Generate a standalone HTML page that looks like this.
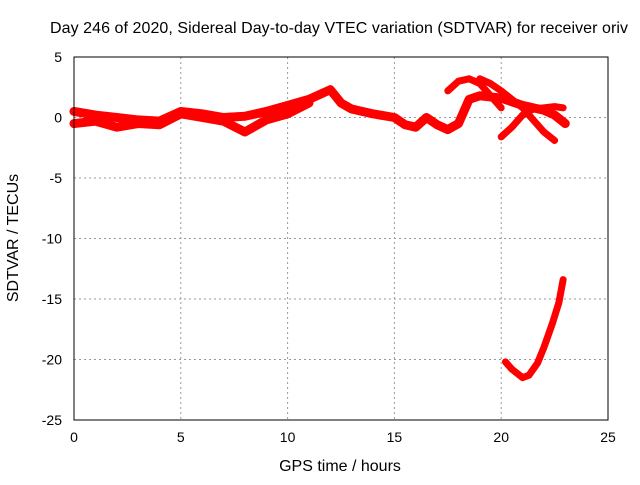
<!DOCTYPE html>
<html><head><meta charset="utf-8"><style>
body{margin:0;background:#fff}
svg text{font-family:"Liberation Sans",sans-serif;font-size:14px;fill:#000}
svg text.big{font-size:16px}
</style></head><body>
<svg id="chart" width="640" height="480">
<text class="big" x="339" y="33" text-anchor="middle" textLength="578">Day 246 of 2020, Sidereal Day-to-day VTEC variation (SDTVAR) for receiver oriv</text>
<text class="big" x="340" y="471" text-anchor="middle">GPS time / hours</text>
<text class="big" transform="translate(18,238) rotate(-90)" text-anchor="middle">SDTVAR / TECUs</text>
<g id="grid"></g><g id="ticks"></g><g id="series"></g>
<rect x="74" y="57" width="534" height="363" fill="none" stroke="#000"/>
</svg>
<script>
const xTicks=[0,5,10,15,20,25];
const yTicks=[5,0,-5,-10,-15,-20,-25];
const mainT=[0,1,2,3,4,5,6,7,8,9,10,11,12,12.5,13,14,15,15.5,16,16.5,17,17.5,18,18.5,19,20,21,22,22.5,23];
const mainV=[0.5,0.2,0,-0.2,-0.3,0.5,0.3,0,0.1,0.5,1.0,1.5,2.3,1.2,0.7,0.3,0,-0.6,-0.8,0,-0.6,-1.0,-0.5,1.5,1.8,1.6,1.0,0.6,0.2,-0.5];
const lowT=[0,1,2,3,4,5,6,7,8,9,10,11];
const lowV=[-0.5,-0.3,-0.8,-0.5,-0.6,0.3,0,-0.3,-1.2,-0.2,0.3,1.2];
const arc1T=[17.5,18,18.5,19,19.5,20];
const arc1V=[2.2,3.0,3.2,2.8,1.8,0.8];
const arc2T=[19,19.5,20,20.5,21,21.5,22,22.5];
const arc2V=[3.2,2.8,2.2,1.5,0.8,-0.2,-1.2,-1.9];
const arc3T=[20,20.5,21,21.5,22,22.5,22.9];
const arc3V=[-1.6,-0.8,0.2,0.7,0.8,0.9,0.8];
const botT=[20.2,20.5,21,21.3,21.7,22,22.4,22.7,22.9];
const botV=[-20.2,-20.8,-21.5,-21.3,-20.3,-19,-17,-15.3,-13.4];
const widths=[9,9,7,7,7,7];
const X=t=>74+t*(534/25);
const Y=v=>57+(5-v)*(363/30);
const NS="http://www.w3.org/2000/svg";
const grid=document.getElementById('grid'),ticks=document.getElementById('ticks'),ser=document.getElementById('series');
function mk(tag,a,p){const e=document.createElementNS(NS,tag);for(const k in a)e.setAttribute(k,a[k]);p.appendChild(e);return e;}
xTicks.forEach(t=>{
 if(t>0&&t<25){const g=mk('line',{x1:X(t),x2:X(t),y1:57,y2:420,stroke:'#999','stroke-dasharray':'2,3'},grid);
 
 }
 const l=mk('text',{x:X(t),y:442,'text-anchor':'middle'},ticks);l.textContent=t;
 
 
});
yTicks.forEach(v=>{
 if(v<5&&v>-25){const g=mk('line',{x1:74,x2:608,y1:Y(v),y2:Y(v),stroke:'#999','stroke-dasharray':'2,3'},grid);
 
 }
 const l=mk('text',{x:62,y:Y(v)+5,'text-anchor':'end'},ticks);l.textContent=v;
 
 
});
[[mainT,mainV],[lowT,lowV],[arc1T,arc1V],[arc2T,arc2V],[arc3T,arc3V],[botT,botV]].forEach(([ts,vs],i)=>{
 const pts=ts.map((t,j)=>X(t)+','+Y(vs[j])).join(' ');
 const p=mk('polyline',{points:pts,fill:'none',stroke:'#f00','stroke-width':widths[i],'stroke-linejoin':'round','stroke-linecap':'round'},ser);
 
 
});
</script>
</body></html>
